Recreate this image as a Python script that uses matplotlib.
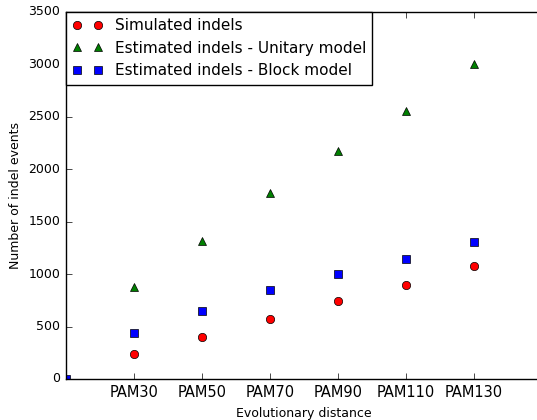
import matplotlib
matplotlib.use('Agg')
from matplotlib import pyplot as plt
import numpy as np

plt.style.use('classic')

labels = ['PAM30', 'PAM50', 'PAM70', 'PAM90', 'PAM110', 'PAM130']
pos = [1, 2, 3, 4, 5, 6]
simulated = [240, 400, 575, 745, 900, 1080]
unitary = [880, 1320, 1770, 2170, 2560, 3000]
block_x = [0, 1, 2, 3, 4, 5, 6]
block = [0, 435, 650, 850, 1005, 1145, 1305]

fig = plt.figure(figsize=(5.37, 4.2), dpi=100)
ax = fig.add_axes([66 / 537, 41 / 420, 476 / 537, 367 / 420])

ax.plot(pos, simulated, 'ro', label='Simulated indels')
ax.plot(pos, unitary, 'g^', label='Estimated indels - Unitary model')
ax.plot(block_x, block, 'bs', label='Estimated indels - Block model')

ax.set_xlim(0, 7)
ax.set_ylim(0, 3500)
ax.set_xticks(pos)
ax.set_xticklabels(labels, fontsize=10.5)
ax.tick_params(axis='y', labelsize=9, right=False)
ax.set_xlabel('Evolutionary distance', fontsize=9)
ax.set_ylabel('Number of indel events', fontsize=9)
ax.legend(loc='upper left', numpoints=2, fontsize=11, borderaxespad=0)

fig.savefig('out.png', dpi=100)
